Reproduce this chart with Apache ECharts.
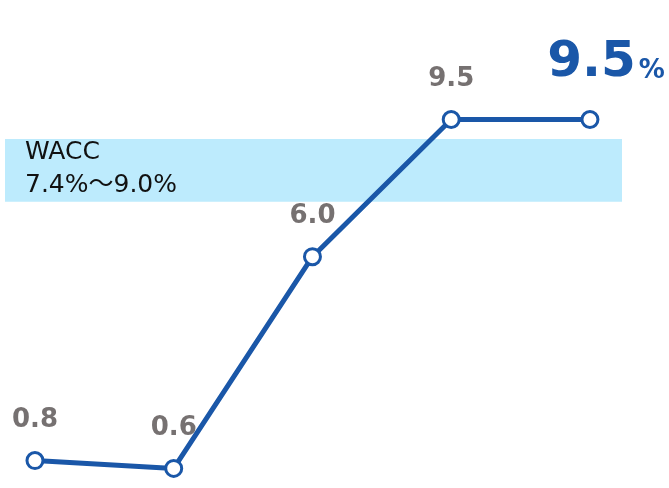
<!DOCTYPE html>
<html><head><meta charset="utf-8">
<script src="https://cdn.jsdelivr.net/npm/echarts@6/dist/echarts.min.js"></script>
<style>html,body{margin:0;padding:0;background:#fff}#c{width:669px;height:488px}</style>
</head><body><div id="c"></div>
<script>
const categories = [0, 1, 2, 3, 4];
const values = [0.8, 0.6, 6.0, 9.5, 9.5];
const waccRange = [7.4, 9.0];
const waccLabel = 'WACC\n7.4%～9.0%';
const lastUnit = '%';

const chart = echarts.init(document.getElementById('c'));
const data = values.map((v, i) => {
  const d = { value: [categories[i], v] };
  if (i === values.length - 1) {
    d.label = {
      formatter: '{a|' + v.toFixed(1) + '}{b|' + lastUnit + '}',
      distance: 22,
      offset: [16, 0],
      rich: {
        a: { fontSize: 50, fontWeight: 'bold', color: '#1a57a8', fontFamily: 'DejaVu Sans', verticalAlign: 'bottom' },
        b: { fontSize: 26, fontWeight: 'bold', color: '#1a57a8', fontFamily: 'DejaVu Sans', verticalAlign: 'bottom', padding: [0, 0, 4, 3] }
      }
    };
  }
  return d;
});
chart.setOption({
  animation: false,
  grid: { left: 5, right: 47, top: 17.6, bottom: 0 },
  xAxis: { type: 'value', min: -0.216, max: 4.231, show: false },
  yAxis: { type: 'value', min: 0.1, max: 12.1, show: false },
  series: [{
    type: 'line',
    data: data,
    symbol: 'circle',
    symbolSize: 16,
    itemStyle: { color: '#fff', borderColor: '#1a57a8', borderWidth: 3 },
    lineStyle: { color: '#1a57a8', width: 5 },
    label: {
      show: true, position: 'top', distance: 18,
      formatter: p => p.value[1].toFixed(1),
      color: '#767171', fontSize: 26, fontWeight: 'bold', fontFamily: 'DejaVu Sans'
    },
    markArea: {
      silent: true,
      itemStyle: { color: '#bdebfd' },
      label: {
        show: true, position: 'insideTopLeft', distance: 0,
        color: '#111', fontSize: 25, fontFamily: 'DejaVu Sans, Noto Sans CJK JP', lineHeight: 33,
        padding: [0, 0, 0, 20], offset: [0, -3]
      },
      data: [[{ yAxis: waccRange[1], name: waccLabel }, { yAxis: waccRange[0] }]]
    },
    z: 3
  }]
});
</script></body></html>
